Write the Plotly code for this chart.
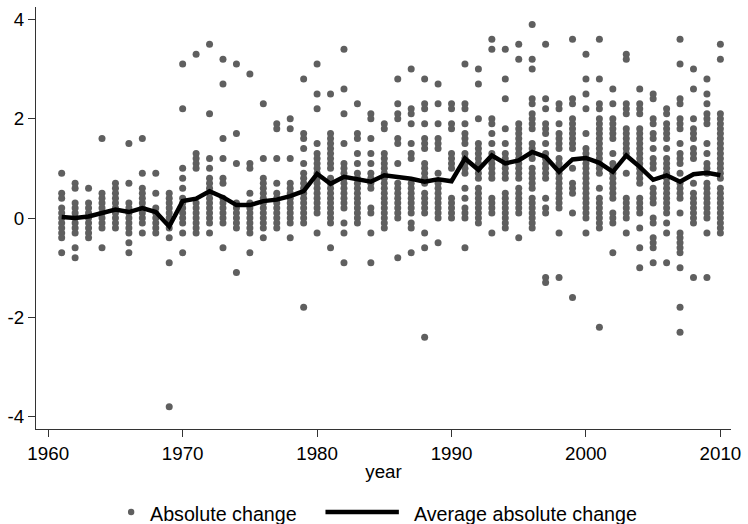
import plotly.graph_objects as go

# ---- data ----
years = list(range(1961, 2011))

changes_1961_1970 = [
    [0.9, 0.5, 0.4, 0.2, 0.1, 0.0, -0.1, -0.2, -0.3, -0.4, -0.7],
    [0.7, 0.6, 0.3, 0.2, 0.1, 0.0, -0.1, -0.2, -0.3, -0.6, -0.8],
    [0.6, 0.3, 0.2, 0.1, 0.0, -0.1, -0.2, -0.3, -0.4],
    [1.6, 0.5, 0.4, 0.3, 0.2, 0.1, 0.0, -0.1, -0.2, -0.6],
    [0.7, 0.6, 0.5, 0.4, 0.3, 0.2, 0.1, 0.0, -0.1, -0.2],
    [1.5, 0.7, 0.3, 0.2, 0.1, 0.0, -0.1, -0.2, -0.3, -0.5, -0.7],
    [1.6, 0.9, 0.6, 0.5, 0.4, 0.3, 0.2, 0.1, 0.0, -0.1, -0.3],
    [0.9, 0.5, 0.2, 0.1, 0.0, -0.1, -0.2, -0.3],
    [0.5, 0.4, 0.3, 0.2, 0.1, 0.0, -0.1, -0.2, -0.4, -0.9, -3.8],
    [3.1, 2.2, 1.0, 0.8, 0.6, 0.4, 0.3, 0.2, 0.1, 0.0, -0.1, -0.3, -0.7],
]
changes_1971_1980 = [
    [3.3, 1.3, 1.2, 1.1, 1.0, 0.3, 0.2, 0.1, 0.0, -0.1, -0.2, -0.3],
    [3.5, 2.1, 1.2, 1.0, 0.8, 0.7, 0.6, 0.5, 0.4, 0.3, 0.2, 0.1, 0.0, -0.1, -0.3],
    [3.2, 2.7, 1.6, 1.2, 0.8, 0.7, 0.4, 0.3, 0.2, 0.1, 0.0, -0.1, -0.6],
    [3.1, 1.7, 1.1, 0.3, 0.2, 0.1, 0.0, -0.1, -0.2, -1.1],
    [2.9, 1.1, 1.0, 0.5, 0.3, 0.2, 0.1, 0.0, -0.1, -0.2, -0.3, -0.7],
    [2.3, 1.2, 0.8, 0.7, 0.6, 0.5, 0.4, 0.3, 0.2, 0.1, 0.0, -0.1, -0.2, -0.4],
    [1.9, 1.8, 1.2, 0.7, 0.5, 0.4, 0.3, 0.2, 0.1, 0.0, -0.1, -0.2],
    [2.0, 1.8, 1.2, 0.7, 0.6, 0.5, 0.4, 0.3, 0.2, 0.1, 0.0, -0.1, -0.4],
    [2.8, 1.7, 1.6, 1.4, 1.1, 0.9, 0.8, 0.7, 0.6, 0.5, 0.4, 0.3, 0.2, 0.1, 0.0, -0.1, -1.8],
    [3.1, 2.5, 2.2, 1.5, 1.3, 1.2, 1.1, 1.0, 0.9, 0.8, 0.7, 0.6, 0.5, 0.4, 0.3, 0.2, 0.1, -0.3],
]
changes_1981_1990 = [
    [2.5, 1.7, 1.6, 1.5, 1.4, 1.3, 1.2, 1.1, 1.0, 0.8, 0.7, 0.6, 0.5, 0.4, 0.3, 0.2, 0.1, 0.0, -0.1, -0.6],
    [3.4, 2.6, 2.1, 1.5, 1.1, 1.0, 0.9, 0.8, 0.7, 0.6, 0.5, 0.4, 0.3, 0.2, -0.1, -0.3, -0.9],
    [2.3, 1.7, 1.6, 1.3, 1.1, 0.9, 0.8, 0.7, 0.6, 0.5, 0.4, 0.3, 0.2, 0.1, 0.0, -0.1],
    [2.1, 2.0, 1.6, 1.3, 1.1, 0.9, 0.8, 0.7, 0.6, 0.2, 0.1, -0.3, -0.9],
    [1.9, 1.8, 1.3, 1.2, 1.1, 1.0, 0.9, 0.8, 0.7, 0.6, 0.5, 0.4, 0.3, 0.2, 0.1, 0.0, -0.1, -0.2],
    [2.8, 2.3, 2.1, 2.0, 1.6, 1.5, 1.1, 0.7, 0.6, 0.5, 0.4, 0.3, 0.2, 0.1, 0.0, -0.8],
    [3.0, 2.2, 2.1, 1.9, 1.5, 1.3, 1.2, 0.7, 0.6, 0.5, 0.4, 0.3, 0.2, 0.1, -0.1, -0.2, -0.7],
    [2.8, 2.3, 2.2, 1.9, 1.6, 1.5, 1.4, 1.1, 1.0, 0.9, 0.8, 0.7, 0.5, 0.4, 0.3, 0.2, 0.1, -0.3, -0.6, -2.4],
    [2.7, 2.3, 1.9, 1.6, 1.5, 1.4, 0.9, 0.7, 0.6, 0.5, 0.4, 0.3, 0.2, 0.1, 0.0, -0.5],
    [2.3, 2.2, 1.9, 1.8, 1.3, 1.2, 1.1, 1.0, 0.4, 0.3, 0.2, 0.1, 0.0],
]
changes_1991_2000 = [
    [3.1, 2.3, 2.2, 1.9, 1.7, 1.6, 1.5, 1.3, 1.2, 1.1, 1.0, 0.9, 0.6, 0.4, 0.2, 0.1, 0.0, -0.6],
    [3.0, 2.7, 2.0, 1.5, 1.4, 1.3, 1.2, 1.1, 1.0, 0.9, 0.8, 0.6, 0.5, 0.4, 0.3, 0.2, 0.1, 0.0, -0.1],
    [3.6, 3.4, 2.0, 1.9, 1.7, 1.5, 1.3, 1.2, 1.1, 1.0, 0.9, 0.8, 0.4, 0.3, 0.2, 0.1, -0.3],
    [3.4, 2.8, 2.4, 1.8, 1.5, 1.3, 1.2, 1.1, 1.0, 0.9, 0.8, 0.5, 0.4, 0.3, 0.2, 0.1, 0.0, -0.1, -0.2],
    [3.5, 3.2, 1.9, 1.8, 1.7, 1.6, 1.5, 1.4, 1.3, 1.2, 1.1, 1.0, 0.9, 0.8, 0.6, 0.5, 0.4, 0.3, 0.2, 0.1, -0.4],
    [3.9, 3.2, 3.0, 2.4, 2.3, 2.1, 2.0, 1.9, 1.8, 1.5, 1.4, 1.3, 1.2, 1.0, 0.9, 0.8, 0.7, 0.6, 0.4, 0.3, 0.2, 0.1, 0.0, -0.1, -0.2],
    [3.5, 2.4, 2.2, 1.9, 1.8, 1.7, 1.5, 1.3, 1.2, 1.1, 1.0, 0.9, 0.8, 0.4, 0.2, 0.1, -1.2, -1.3],
    [2.3, 2.2, 1.9, 1.7, 1.6, 1.5, 1.4, 1.2, 1.1, 1.0, 0.9, 0.8, 0.7, 0.6, 0.5, 0.4, 0.3, 0.2, -0.3, -1.2],
    [3.6, 2.4, 2.3, 2.0, 1.9, 1.8, 1.7, 1.6, 1.5, 1.4, 1.0, 0.7, 0.6, 0.5, 0.1, -1.6],
    [3.3, 2.8, 2.5, 2.2, 1.7, 1.4, 1.3, 1.2, 1.1, 1.0, 0.9, 0.8, 0.7, 0.6, 0.5, 0.4, 0.3, 0.2, 0.1, 0.0, -0.3],
]
changes_2001_2010 = [
    [3.6, 2.8, 2.3, 2.2, 2.0, 1.9, 1.8, 1.7, 1.6, 1.5, 1.4, 1.3, 1.2, 1.1, 1.0, 0.9, 0.6, 0.4, 0.3, 0.2, 0.1, 0.0, -0.1, -0.2, -2.2],
    [2.6, 2.3, 2.0, 1.9, 1.8, 1.7, 1.6, 1.3, 1.1, 1.0, 0.9, 0.8, 0.7, 0.6, 0.5, 0.4, 0.1, 0.0, -0.1, -0.7],
    [3.3, 3.2, 2.3, 2.2, 2.1, 1.8, 1.7, 1.6, 1.5, 1.4, 1.3, 0.9, 0.4, 0.3, 0.2, 0.1, 0.0, -0.3],
    [2.6, 2.3, 2.2, 2.1, 1.8, 1.7, 1.6, 1.5, 1.4, 1.3, 1.2, 1.1, 1.0, 0.9, 0.8, 0.7, 0.4, 0.3, 0.2, 0.1, -0.2, -0.6, -1.0],
    [2.5, 2.4, 2.0, 1.9, 1.7, 1.6, 1.4, 1.2, 1.1, 1.0, 0.6, 0.5, 0.4, 0.3, 0.0, -0.1, -0.4, -0.5, -0.6, -0.9],
    [2.2, 2.1, 1.9, 1.8, 1.7, 1.6, 1.4, 1.2, 1.1, 1.0, 0.9, 0.8, 0.7, 0.6, 0.5, 0.4, 0.3, 0.2, 0.1, -0.1, -0.3, -0.9],
    [3.6, 3.1, 2.4, 2.3, 2.0, 1.9, 1.8, 1.5, 1.3, 1.2, 1.1, 0.9, 0.7, 0.6, 0.5, 0.4, 0.1, -0.3, -0.4, -0.5, -0.6, -0.7, -1.0, -1.8, -2.3],
    [3.0, 2.6, 2.0, 1.8, 1.7, 1.6, 1.4, 1.3, 1.2, 0.7, 0.5, 0.4, 0.3, 0.2, 0.1, 0.0, -0.1, -1.2],
    [2.8, 2.5, 2.3, 2.1, 2.0, 1.9, 1.5, 1.3, 1.1, 1.0, 0.9, 0.7, 0.6, 0.5, 0.4, 0.3, 0.2, 0.1, 0.0, -0.3, -1.2],
    [3.5, 3.2, 2.1, 2.0, 1.9, 1.8, 1.7, 1.6, 1.5, 1.4, 1.3, 1.2, 1.1, 1.0, 0.9, 0.8, 0.6, 0.5, 0.4, 0.3, 0.2, 0.1, 0.0, -0.1, -0.2, -0.3],
]

average_change = [
    0.02, 0.00, 0.03, 0.10, 0.17, 0.12, 0.20, 0.12, -0.17, 0.34,
    0.39, 0.54, 0.42, 0.26, 0.26, 0.34, 0.37, 0.44, 0.54, 0.89,
    0.69, 0.83, 0.79, 0.73, 0.86, 0.83, 0.79, 0.73, 0.78, 0.74,
    1.20, 0.97, 1.26, 1.10, 1.16, 1.33, 1.23, 0.93, 1.18, 1.21,
    1.11, 0.93, 1.26, 1.03, 0.77, 0.86, 0.73, 0.88, 0.91, 0.86,
]

x_ticks = [1960, 1970, 1980, 1990, 2000, 2010]
y_ticks = [-4, -2, 0, 2, 4]
legend_labels = ["Absolute change", "Average absolute change"]

# ---- build scatter arrays ----
all_changes = (changes_1961_1970 + changes_1971_1980 + changes_1981_1990
               + changes_1991_2000 + changes_2001_2010)
sx, sy = [], []
for yr, vals in zip(years, all_changes):
    for v in vals:
        sx.append(yr)
        sy.append(v)

FONT = "Liberation Sans, Arial, sans-serif"
AXIS_COLOR = "#333333"
DOT_COLOR = "#5f5f5f"

fig = go.Figure()
fig.add_trace(go.Scatter(
    x=sx, y=sy, mode="markers", name=legend_labels[0], showlegend=False,
    marker=dict(color=DOT_COLOR, size=7, line=dict(width=0)),
))
fig.add_trace(go.Scatter(
    x=years, y=average_change, mode="lines", name=legend_labels[1], showlegend=False,
    line=dict(color="black", width=4.5),
))

# ---- legend (drawn below the plot, Stata style) ----
LEG_Y = -0.1967
fig.add_shape(type="circle", xref="paper", yref="paper",
              xsizemode="pixel", ysizemode="pixel",
              xanchor=0.1369, yanchor=LEG_Y, x0=-3.2, x1=3.2, y0=-3.2, y1=3.2,
              fillcolor=DOT_COLOR, line=dict(width=0))
fig.add_shape(type="line", xref="paper", yref="paper",
              x0=0.4165, x1=0.5221, y0=LEG_Y, y1=LEG_Y,
              line=dict(color="black", width=4.5))
fig.add_annotation(text=legend_labels[0], xref="paper", yref="paper",
                   x=0.1612, y=-0.2014, xanchor="left", yanchor="middle",
                   showarrow=False, font=dict(family=FONT, size=19.7, color="black"))
fig.add_annotation(text=legend_labels[1], xref="paper", yref="paper",
                   x=0.5407, y=-0.2014, xanchor="left", yanchor="middle",
                   showarrow=False, font=dict(family=FONT, size=19.7, color="black"))

fig.update_layout(
    width=748, height=524,
    margin=dict(l=36, r=11, t=7, b=95),
    paper_bgcolor="white", plot_bgcolor="white",
    font=dict(family=FONT, size=18.75, color="black"),
    showlegend=False,
    xaxis=dict(
        range=[1959.09, 2010.79], tickvals=x_ticks, ticktext=[str(t) for t in x_ticks],
        showgrid=False, zeroline=False, showline=True, linecolor=AXIS_COLOR, linewidth=1,
        ticks="outside", ticklen=7, tickcolor=AXIS_COLOR, tickwidth=1,
        ticklabelstandoff=0,
        tickfont=dict(family=FONT, size=18.75, color="black"),
        title=dict(text="year", font=dict(family=FONT, size=18.75, color="black"), standoff=2),
    ),
    yaxis=dict(
        range=[-4.25, 4.25], tickvals=y_ticks, ticktext=[str(t) for t in y_ticks],
        showgrid=False, zeroline=False, showline=True, linecolor=AXIS_COLOR, linewidth=1,
        ticks="outside", ticklen=7, tickcolor=AXIS_COLOR, tickwidth=1,
        tickfont=dict(family=FONT, size=18.75, color="black"),
    ),
)

fig.write_html("out.html")
